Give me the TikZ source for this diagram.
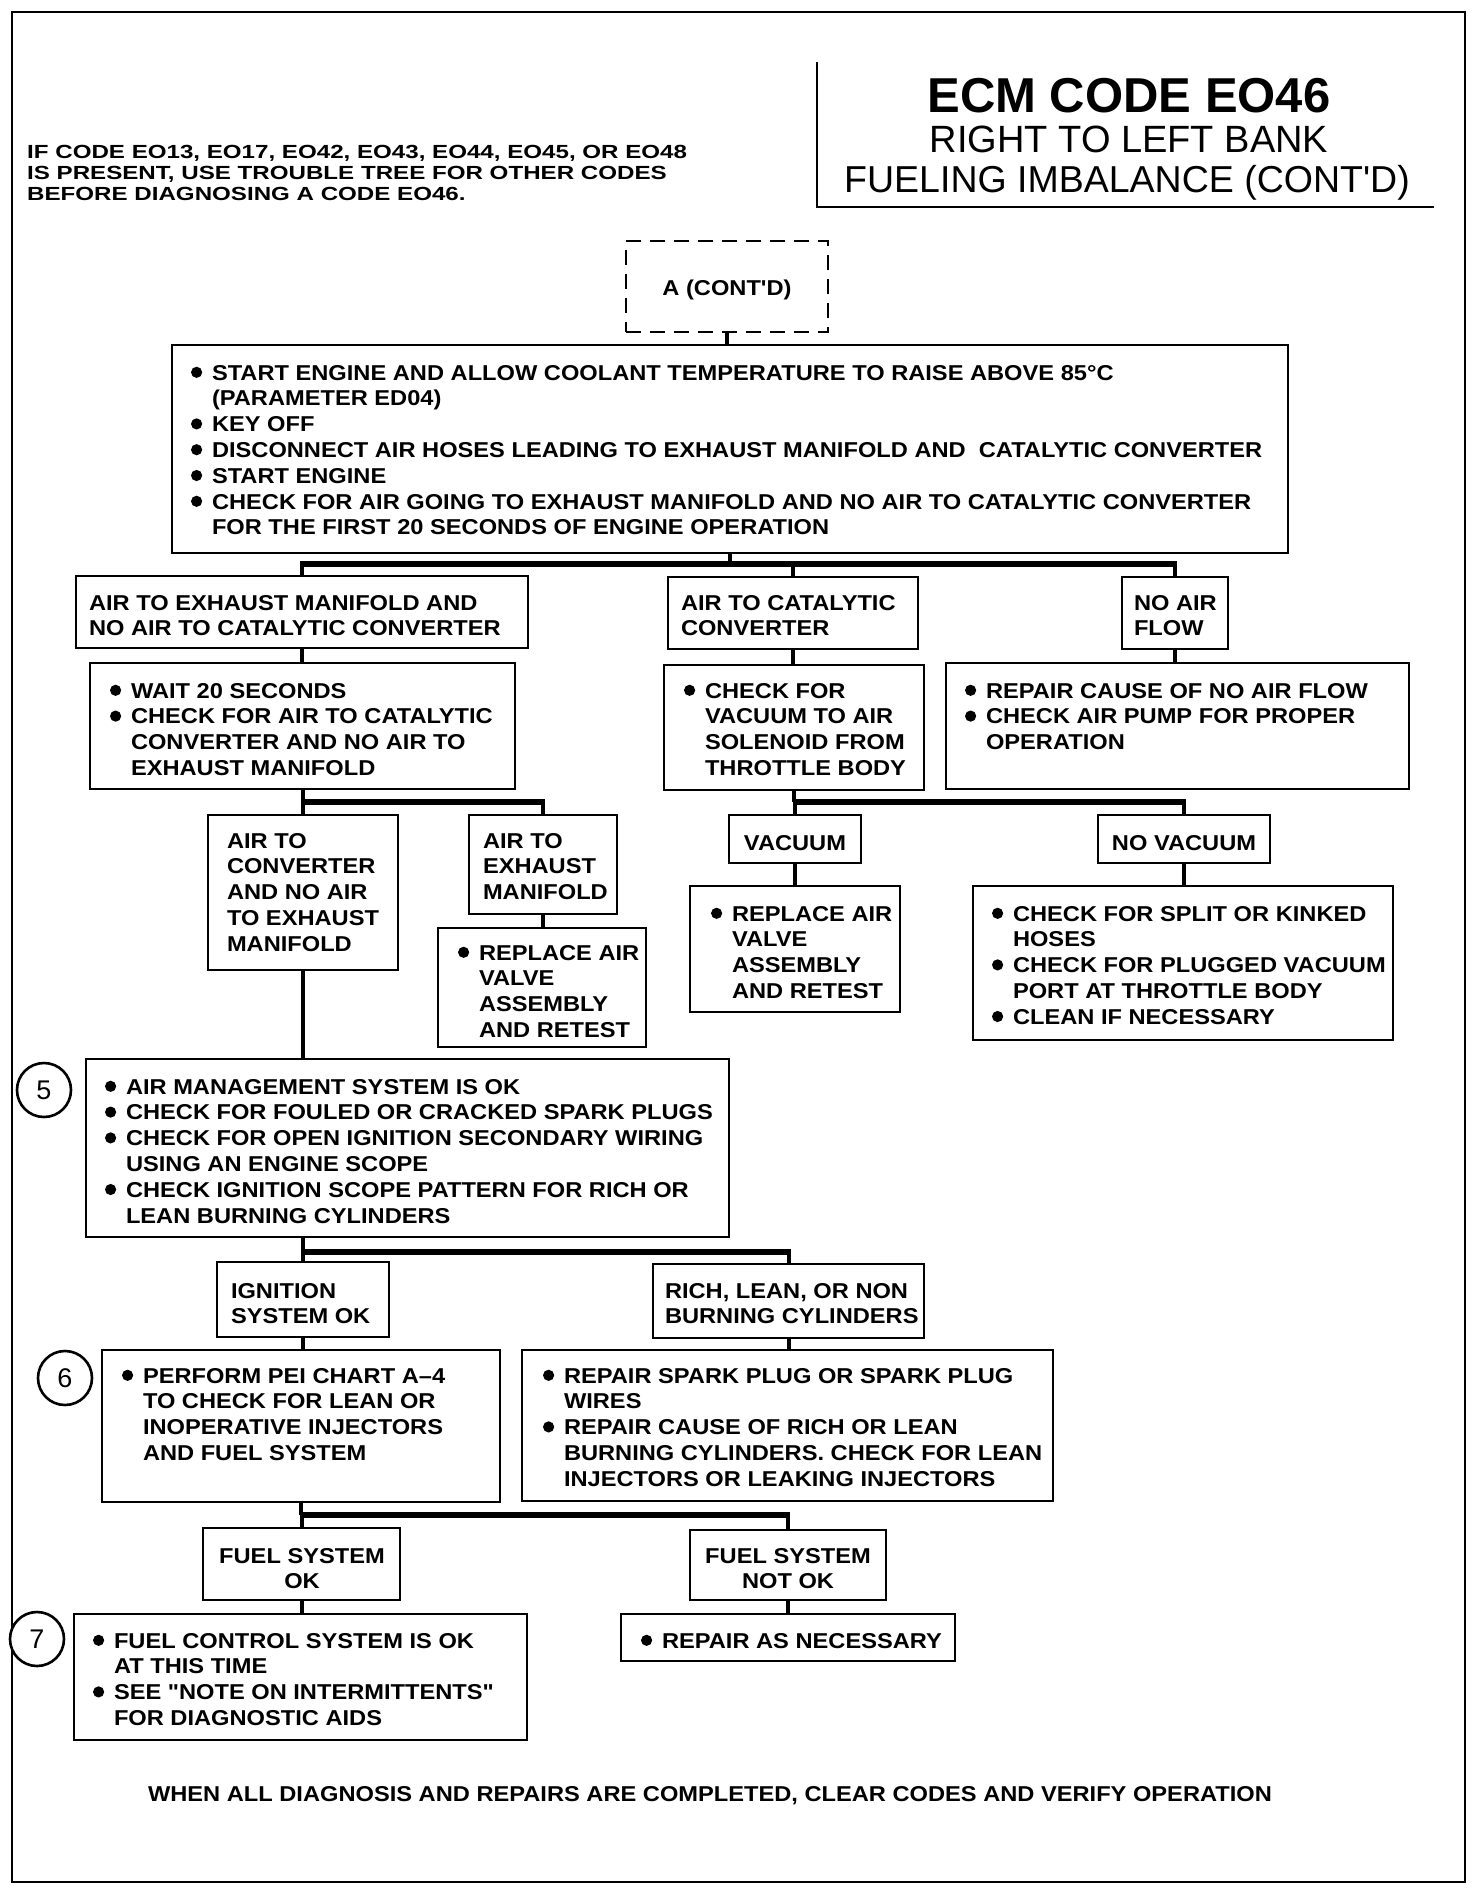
\documentclass[tikz,border=0pt]{standalone}
\usepackage{graphicx}
\usepackage{fontspec}
\setmainfont{Liberation Sans}
\newfontfamily\titlef{Liberation Sans}
\newfontfamily\bodyf{Liberation Sans}[FakeStretch=1.10]
\newfontfamily\notef{Liberation Sans}[FakeStretch=1.27]
\newcommand\Bu{\makebox[21pt][l]{\tikz[baseline=0pt,x=1pt,y=1pt]{\pgfpathcircle{\pgfpoint{5.4pt}{7.7pt}}{5.6pt}\pgfusepath{fill}}}}
\newcommand\In{\hspace*{21pt}}
\newcommand\fst{\rule{0pt}{16pt}}
\newcommand\nst{\rule{0pt}{14pt}}
\newcommand\bx[5]{\node[box, anchor=north west, minimum width={#4pt-#2pt}, minimum height={#5pt-#3pt}] (#1) at (#2,#3) {};}
\tikzset{
  box/.style={draw, line width=2.6pt, inner sep=0pt, outer sep=0pt},
  txt/.style={inner sep=0pt, outer sep=0pt, align=left, anchor=north west, font=\bodyf\bfseries\fontsize{21.5}{25.8}\selectfont},
  ctxt/.style={inner sep=0pt, outer sep=0pt, align=center, font=\bodyf\bfseries\fontsize{21.5}{25.8}\selectfont},
  conn/.style={line width=4pt},
  bus/.style={line width=6pt, shorten <=-2pt, shorten >=-2pt},
  numc/.style={circle, draw, line width=2.6pt, minimum size=54pt, inner sep=0pt, fill=white, font=\titlef\fontsize{27}{27}\selectfont}
}
\begin{document}
\begin{tikzpicture}[x=1pt,y=-1pt]
\useasboundingbox (0,0) rectangle (1472,1892);
% frame and title
\draw[line width=2.6pt] (12,12) rectangle (1465,1882);
\draw[line width=2.6pt] (817,62) -- (817,207) -- (1434,207);
\node[anchor=base, inner sep=0pt, font=\titlef\bfseries\fontsize{49}{49}\selectfont] (ttl1) at (1129,113) {ECM CODE EO46};
\node[anchor=base, inner sep=0pt, font=\titlef\fontsize{38}{38}\selectfont] (ttl2) at (1129,153) {RIGHT TO LEFT BANK};
\node[anchor=base, inner sep=0pt, font=\titlef\fontsize{37.5}{37.5}\selectfont] (ttl3) at (1127,192) {FUELING IMBALANCE (CONT'D)};
\node[inner sep=0pt, align=left, anchor=north west, font=\notef\bfseries\fontsize{19}{21}\selectfont] (note) at (27,144)
 {\nst IF CODE EO13, EO17, EO42, EO43, EO44, EO45, OR EO48\\IS PRESENT, USE TROUBLE TREE FOR OTHER CODES\\BEFORE DIAGNOSING A CODE EO46.};
% boxes
\node[box, dash pattern=on 15pt off 9pt, anchor=north west, minimum width=202pt, minimum height=91pt] (dsh) at (626,241) {};
\bx{top}{172}{345}{1288}{553}
\bx{b1}{76}{576}{528}{648}
\bx{b2}{668}{577}{918}{649}
\bx{b3}{1122}{577}{1228}{649}
\bx{c1}{90}{663}{515}{789}
\bx{c2}{664}{665}{924}{790}
\bx{c3}{946}{663}{1409}{789}
\bx{d1}{208}{815}{398}{970}
\bx{d2}{469}{815}{617}{914}
\bx{e2}{438}{928}{646}{1047}
\bx{vb1}{729}{815}{861}{863}
\bx{vb2}{1098}{815}{1270}{863}
\bx{e3}{690}{886}{900}{1012}
\bx{e4}{973}{886}{1393}{1040}
\bx{f}{86}{1059}{729}{1237}
\bx{g1}{217}{1262}{389}{1337}
\bx{g2}{653}{1264}{924}{1338}
\bx{h1}{102}{1350}{500}{1502}
\bx{h2}{522}{1350}{1053}{1501}
\bx{i1}{203}{1528}{400}{1600}
\bx{i2}{690}{1530}{886}{1600}
\bx{j1}{74}{1614}{527}{1740}
\bx{j2}{621}{1614}{955}{1661}
% texts
\node[ctxt, anchor=base] (tdsh) at (727,295) {A (CONT'D)};
\node[txt] (ttop) at (191,364) {\fst\Bu START ENGINE AND ALLOW COOLANT TEMPERATURE TO RAISE ABOVE 85°C\\
\In (PARAMETER ED04)\\ \Bu KEY OFF\\ \Bu DISCONNECT AIR HOSES LEADING TO EXHAUST MANIFOLD AND~ CATALYTIC CONVERTER\\
\Bu START ENGINE\\ \Bu CHECK FOR AIR GOING TO EXHAUST MANIFOLD AND NO AIR TO CATALYTIC CONVERTER\\
\In FOR THE FIRST 20 SECONDS OF ENGINE OPERATION};
\node[txt] (tb1) at (89,594) {\fst AIR TO EXHAUST MANIFOLD AND\\NO AIR TO CATALYTIC CONVERTER};
\node[txt] (tb2) at (681,594) {\fst AIR TO CATALYTIC\\CONVERTER};
\node[txt] (tb3) at (1134,594) {\fst NO AIR\\FLOW};
\node[txt] (tc1) at (110,682) {\fst\Bu WAIT 20 SECONDS\\ \Bu CHECK FOR AIR TO CATALYTIC\\ \In CONVERTER AND NO AIR TO\\ \In EXHAUST MANIFOLD};
\node[txt] (tc2) at (684,682) {\fst\Bu CHECK FOR\\ \In VACUUM TO AIR\\ \In SOLENOID FROM\\ \In THROTTLE BODY};
\node[txt] (tc3) at (965,682) {\fst\Bu REPAIR CAUSE OF NO AIR FLOW\\ \Bu CHECK AIR PUMP FOR PROPER\\ \In OPERATION};
\node[txt] (td1) at (227,832) {\fst AIR TO\\CONVERTER\\AND NO AIR\\TO EXHAUST\\MANIFOLD};
\node[txt] (td2) at (483,832) {\fst AIR TO\\EXHAUST\\MANIFOLD};
\node[txt] (te2) at (458,944) {\fst\Bu REPLACE AIR\\ \In VALVE\\ \In ASSEMBLY\\ \In AND RETEST};
\node[ctxt, anchor=base] (tv1) at (795,850) {VACUUM};
\node[ctxt, anchor=base] (tv2) at (1184,850) {NO VACUUM};
\node[txt] (te3) at (711,905) {\fst\Bu REPLACE AIR\\ \In VALVE\\ \In ASSEMBLY\\ \In AND RETEST};
\node[txt] (te4) at (992,905) {\fst\Bu CHECK FOR SPLIT OR KINKED\\ \In HOSES\\ \Bu CHECK FOR PLUGGED VACUUM\\ \In PORT AT THROTTLE BODY\\ \Bu CLEAN IF NECESSARY};
\node[txt] (tf) at (105,1078) {\fst\Bu AIR MANAGEMENT SYSTEM IS OK\\ \Bu CHECK FOR FOULED OR CRACKED SPARK PLUGS\\ \Bu CHECK FOR OPEN IGNITION SECONDARY WIRING\\ \In USING AN ENGINE SCOPE\\ \Bu CHECK IGNITION SCOPE PATTERN FOR RICH OR\\ \In LEAN BURNING CYLINDERS};
\node[txt] (tg1) at (231,1282) {\fst IGNITION\\SYSTEM OK};
\node[txt] (tg2) at (665,1282) {\fst RICH, LEAN, OR NON\\BURNING CYLINDERS};
\node[txt] (th1) at (122,1367) {\fst\Bu PERFORM PEI CHART A–4\\ \In TO CHECK FOR LEAN OR\\ \In INOPERATIVE INJECTORS\\ \In AND FUEL SYSTEM};
\node[txt] (th2) at (543,1367) {\fst\Bu REPAIR SPARK PLUG OR SPARK PLUG\\ \In WIRES\\ \Bu REPAIR CAUSE OF RICH OR LEAN\\ \In BURNING CYLINDERS. CHECK FOR LEAN\\ \In INJECTORS OR LEAKING INJECTORS};
\node[ctxt, anchor=north] (ti1) at (302,1547) {\fst FUEL SYSTEM\\OK};
\node[ctxt, anchor=north] (ti2) at (788,1547) {\fst FUEL SYSTEM\\NOT OK};
\node[txt] (tj1) at (93,1632) {\fst\Bu FUEL CONTROL SYSTEM IS OK\\ \In AT THIS TIME\\ \Bu SEE "NOTE ON INTERMITTENTS"\\ \In FOR DIAGNOSTIC AIDS};
\node[txt] (tj2) at (641,1632) {\fst\Bu REPAIR AS NECESSARY};
\node[ctxt, anchor=base] (tbot) at (710,1801) {WHEN ALL DIAGNOSIS AND REPAIRS ARE COMPLETED, CLEAR CODES AND VERIFY OPERATION};
% circles
\node[numc] (n5) at (44,1090) {5};
\node[numc] (n6) at (65,1378) {6};
\node[numc] (n7) at (37,1639) {7};
% bus levels
\coordinate (L1) at (0,564);
\coordinate (L2) at (0,802);
\coordinate (L3) at (0,1252);
\coordinate (L4) at (0,1515);
% connectors
\draw[conn] (dsh.south) -- (dsh.south |- top.north);
\draw[conn] (top.south) -- (top.south |- L1);
\draw[bus] (b1.north |- L1) -- (b3.north |- L1);
\foreach \n in {b1,b2,b3} \draw[conn] (\n.north |- L1) -- (\n.north);
\draw[conn] (b1.south) -- (b1.south |- c1.north);
\draw[conn] (b2.south) -- (b2.south |- c2.north);
\draw[conn] (b3.south) -- (b3.south |- c3.north);
\draw[conn] (c1.south) -- (c1.south |- L2);
\draw[bus] (d1.north |- L2) -- (d2.north |- L2);
\foreach \n in {d1,d2} \draw[conn] (\n.north |- L2) -- (\n.north);
\draw[conn] (d2.south) -- (d2.south |- e2.north);
\draw[conn] (c2.south) -- (c2.south |- L2);
\draw[bus] (vb1.north |- L2) -- (vb2.north |- L2);
\foreach \n in {vb1,vb2} \draw[conn] (\n.north |- L2) -- (\n.north);
\draw[conn] (vb1.south) -- (vb1.south |- e3.north);
\draw[conn] (vb2.south) -- (vb2.south |- e4.north);
\draw[conn] (d1.south) -- (d1.south |- f.north);
\draw[conn] (d1.south |- f.south) -- (d1.south |- L3);
\draw[bus] (g1.north |- L3) -- (g2.north |- L3);
\foreach \n in {g1,g2} \draw[conn] (\n.north |- L3) -- (\n.north);
\draw[conn] (g1.south) -- (g1.south |- h1.north);
\draw[conn] (g2.south) -- (g2.south |- h2.north);
\draw[conn] (h1.south) -- (h1.south |- L4);
\draw[bus] (i1.north |- L4) -- (i2.north |- L4);
\foreach \n in {i1,i2} \draw[conn] (\n.north |- L4) -- (\n.north);
\draw[conn] (i1.south) -- (i1.south |- j1.north);
\draw[conn] (i2.south) -- (i2.south |- j2.north);
\end{tikzpicture}
\end{document}
